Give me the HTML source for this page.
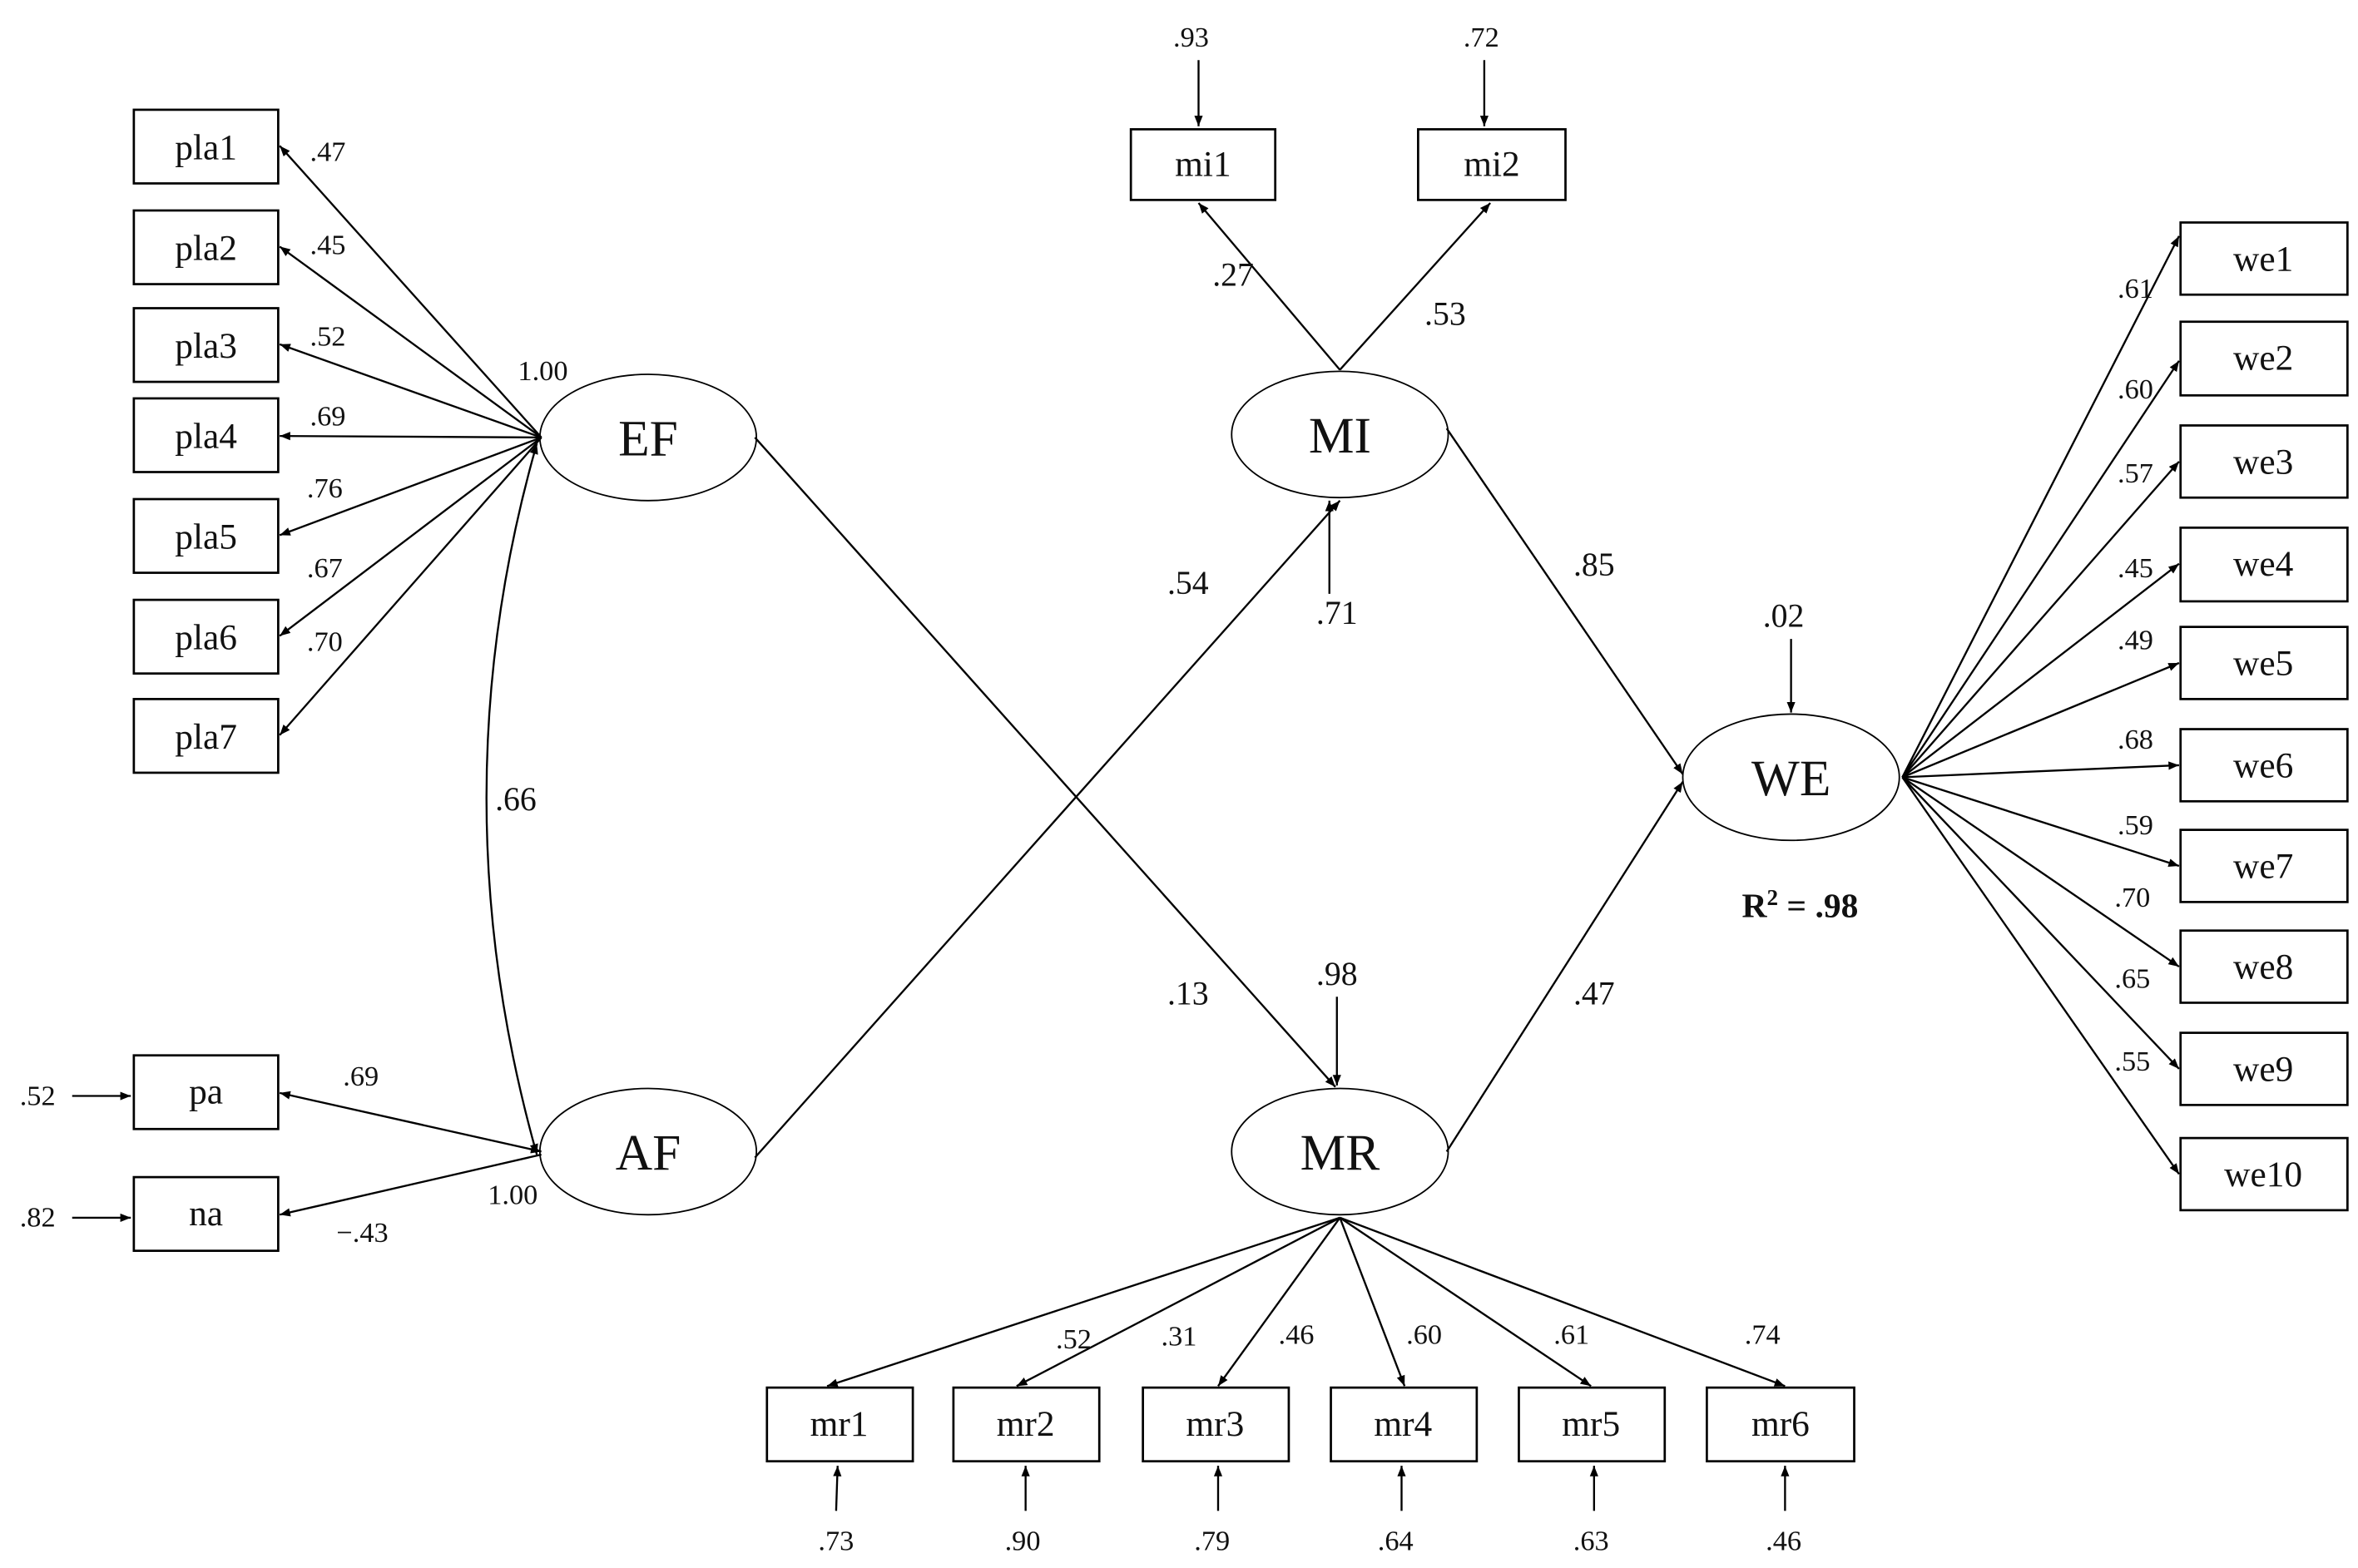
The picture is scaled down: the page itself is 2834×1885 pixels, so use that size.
<!DOCTYPE html>
<html><head><meta charset="utf-8"><style>
html,body{margin:0;padding:0;background:#fff;}
svg{display:block;}
text{font-family:"Liberation Serif",serif;fill:#111;}
.b{font-size:24px;text-anchor:middle;}
.s{font-size:19px;text-anchor:middle;}
.l{font-size:34px;text-anchor:middle;}
</style></head><body>
<svg width="2834" height="1885" viewBox="0 0 1568 1043" preserveAspectRatio="none" xmlns="http://www.w3.org/2000/svg">
<defs>
<marker id="a" viewBox="0 0 10 10" refX="10" refY="5" markerWidth="7" markerHeight="7" orient="auto-start-reverse" markerUnits="userSpaceOnUse"><path d="M0,1 L10,5 L0,9 z" fill="#000"/></marker>
<marker id="a2" viewBox="0 0 10 10" refX="10" refY="5" markerWidth="12" markerHeight="12" orient="auto-start-reverse" markerUnits="userSpaceOnUse"><path d="M0,1.5 L10,5 L0,8.5 z" fill="#000"/></marker>
</defs>
<g stroke="#000" stroke-width="1.5" fill="#fff">
<!-- pla boxes -->
<rect x="89" y="73" width="96" height="49"/>
<rect x="89" y="140" width="96" height="49"/>
<rect x="89" y="205" width="96" height="49"/>
<rect x="89" y="265" width="96" height="49"/>
<rect x="89" y="332" width="96" height="49"/>
<rect x="89" y="399" width="96" height="49"/>
<rect x="89" y="465" width="96" height="49"/>
<rect x="89" y="702" width="96" height="49"/>
<rect x="89" y="783" width="96" height="49"/>
<rect x="752" y="86" width="96" height="47"/>
<rect x="943" y="86" width="98" height="47"/>
<rect x="1450" y="148" width="111" height="48"/>
<rect x="1450" y="214" width="111" height="49"/>
<rect x="1450" y="283" width="111" height="48"/>
<rect x="1450" y="351" width="111" height="49"/>
<rect x="1450" y="417" width="111" height="48"/>
<rect x="1450" y="485" width="111" height="48"/>
<rect x="1450" y="552" width="111" height="48"/>
<rect x="1450" y="619" width="111" height="48"/>
<rect x="1450" y="687" width="111" height="48"/>
<rect x="1450" y="757" width="111" height="48"/>
<rect x="510" y="923" width="97" height="49"/>
<rect x="634" y="923" width="97" height="49"/>
<rect x="760" y="923" width="97" height="49"/>
<rect x="885" y="923" width="97" height="49"/>
<rect x="1010" y="923" width="97" height="49"/>
<rect x="1135" y="923" width="98" height="49"/>
</g>
<g stroke="#000" stroke-width="1" fill="#fff">
<ellipse cx="431" cy="291" rx="72" ry="42"/>
<ellipse cx="431" cy="766" rx="72" ry="42"/>
<ellipse cx="891" cy="289" rx="72" ry="42"/>
<ellipse cx="891" cy="766" rx="72" ry="42"/>
<ellipse cx="1191" cy="517" rx="72" ry="42"/>
</g>
<g stroke="#000" stroke-width="1.3" fill="none" marker-end="url(#a)">
<line x1="360" y1="291" x2="186" y2="97"/>
<line x1="360" y1="291" x2="186" y2="164"/>
<line x1="360" y1="291" x2="186" y2="229"/>
<line x1="360" y1="291" x2="186" y2="290"/>
<line x1="360" y1="291" x2="186" y2="356"/>
<line x1="360" y1="291" x2="186" y2="423"/>
<line x1="360" y1="291" x2="186" y2="489"/>
<line x1="360" y1="766" x2="186" y2="727" marker-start="url(#a)"/>
<line x1="360" y1="768" x2="186" y2="808"/>
<line x1="48" y1="729" x2="87" y2="729"/>
<line x1="48" y1="810" x2="87" y2="810"/>
<path d="M357,295 Q290,530 357,768" marker-start="url(#a)"/>
<line x1="502" y1="291" x2="888" y2="723"/>
<line x1="502" y1="770" x2="891" y2="333"/>
<line x1="962" y1="285" x2="1119" y2="515"/>
<line x1="962" y1="766" x2="1119" y2="520"/>
<line x1="891" y1="246" x2="797" y2="135"/>
<line x1="891" y1="246" x2="991" y2="135"/>
<line x1="797" y1="40" x2="797" y2="84"/>
<line x1="987" y1="40" x2="987" y2="84"/>
<line x1="884" y1="395" x2="884" y2="333"/>
<line x1="1191" y1="425" x2="1191" y2="474"/>
<line x1="889" y1="663" x2="889" y2="722"/>
<line x1="891" y1="810" x2="550" y2="922"/>
<line x1="891" y1="810" x2="676" y2="922"/>
<line x1="891" y1="810" x2="810" y2="922"/>
<line x1="891" y1="810" x2="934" y2="922"/>
<line x1="891" y1="810" x2="1058" y2="922"/>
<line x1="891" y1="810" x2="1187" y2="922"/>
<line x1="556" y1="1005" x2="557" y2="975"/>
<line x1="682" y1="1005" x2="682" y2="975"/>
<line x1="810" y1="1005" x2="810" y2="975"/>
<line x1="932" y1="1005" x2="932" y2="975"/>
<line x1="1060" y1="1005" x2="1060" y2="975"/>
<line x1="1187" y1="1005" x2="1187" y2="975"/>
<line x1="1265" y1="517" x2="1449" y2="157"/>
<line x1="1265" y1="517" x2="1449" y2="240"/>
<line x1="1265" y1="517" x2="1449" y2="307"/>
<line x1="1265" y1="517" x2="1449" y2="375"/>
<line x1="1265" y1="517" x2="1449" y2="441"/>
<line x1="1265" y1="517" x2="1449" y2="509"/>
<line x1="1265" y1="517" x2="1449" y2="576"/>
<line x1="1265" y1="517" x2="1449" y2="643"/>
<line x1="1265" y1="517" x2="1449" y2="711"/>
<line x1="1265" y1="517" x2="1449" y2="781"/>
</g>
<g class="b">
<text class="b" x="137" y="106">pla1</text>
<text class="b" x="137" y="173">pla2</text>
<text class="b" x="137" y="238">pla3</text>
<text class="b" x="137" y="298">pla4</text>
<text class="b" x="137" y="365">pla5</text>
<text class="b" x="137" y="432">pla6</text>
<text class="b" x="137" y="498">pla7</text>
<text class="b" x="137" y="734">pa</text>
<text class="b" x="137" y="815">na</text>
<text class="b" x="800" y="117">mi1</text>
<text class="b" x="992" y="117">mi2</text>
<text class="b" x="1505" y="180">we1</text>
<text class="b" x="1505" y="246">we2</text>
<text class="b" x="1505" y="315">we3</text>
<text class="b" x="1505" y="383">we4</text>
<text class="b" x="1505" y="449">we5</text>
<text class="b" x="1505" y="517">we6</text>
<text class="b" x="1505" y="584">we7</text>
<text class="b" x="1505" y="651">we8</text>
<text class="b" x="1505" y="719">we9</text>
<text class="b" x="1505" y="789">we10</text>
<text class="b" x="558" y="955">mr1</text>
<text class="b" x="682" y="955">mr2</text>
<text class="b" x="808" y="955">mr3</text>
<text class="b" x="933" y="955">mr4</text>
<text class="b" x="1058" y="955">mr5</text>
<text class="b" x="1184" y="955">mr6</text>
</g>
<text class="l" x="431" y="303">EF</text>
<text class="l" x="431" y="778">AF</text>
<text class="l" x="891" y="301">MI</text>
<text class="l" x="891" y="778">MR</text>
<text class="l" x="1191" y="529">WE</text>
<g>
<text class="s" x="218" y="107">.47</text>
<text class="s" x="218" y="169">.45</text>
<text class="s" x="218" y="230">.52</text>
<text class="s" x="218" y="283">.69</text>
<text class="s" x="216" y="331">.76</text>
<text class="s" x="216" y="384">.67</text>
<text class="s" x="216" y="433">.70</text>
<text class="s" x="361" y="253">1.00</text>
<text class="s" x="343" y="539" style="font-size:22px">.66</text>
<text class="s" x="240" y="722">.69</text>
<text class="s" x="341" y="801">1.00</text>
<text class="s" x="241" y="826">−.43</text>
<text class="s" x="25" y="735">.52</text>
<text class="s" x="25" y="816">.82</text>
<text class="s" x="792" y="31">.93</text>
<text class="s" x="985" y="31">.72</text>
<text class="s" x="820" y="190" style="font-size:22px">.27</text>
<text class="s" x="961" y="216" style="font-size:22px">.53</text>
<text class="s" x="790" y="395" style="font-size:22px">.54</text>
<text class="s" x="889" y="415" style="font-size:22px">.71</text>
<text class="s" x="1060" y="383" style="font-size:22px">.85</text>
<text class="s" x="1186" y="417" style="font-size:22px">.02</text>
<text class="s" x="790" y="668" style="font-size:22px">.13</text>
<text class="s" x="889" y="655" style="font-size:22px">.98</text>
<text class="s" x="1060" y="668" style="font-size:22px">.47</text>
<text x="1197" y="610" style="font-size:23px;font-weight:bold;text-anchor:middle">R<tspan dy="-8" style="font-size:15px">2</tspan><tspan dy="8"> = .98</tspan></text>
<text class="s" x="1420" y="198">.61</text>
<text class="s" x="1420" y="265">.60</text>
<text class="s" x="1420" y="321">.57</text>
<text class="s" x="1420" y="384">.45</text>
<text class="s" x="1420" y="432">.49</text>
<text class="s" x="1420" y="498">.68</text>
<text class="s" x="1420" y="555">.59</text>
<text class="s" x="1418" y="603">.70</text>
<text class="s" x="1418" y="657">.65</text>
<text class="s" x="1418" y="712">.55</text>
<text class="s" x="714" y="897">.52</text>
<text class="s" x="784" y="895">.31</text>
<text class="s" x="862" y="894">.46</text>
<text class="s" x="947" y="894">.60</text>
<text class="s" x="1045" y="894">.61</text>
<text class="s" x="1172" y="894">.74</text>
<text class="s" x="556" y="1031">.73</text>
<text class="s" x="680" y="1031">.90</text>
<text class="s" x="806" y="1031">.79</text>
<text class="s" x="928" y="1031">.64</text>
<text class="s" x="1058" y="1031">.63</text>
<text class="s" x="1186" y="1031">.46</text>
</g>
</svg>
</body></html>
